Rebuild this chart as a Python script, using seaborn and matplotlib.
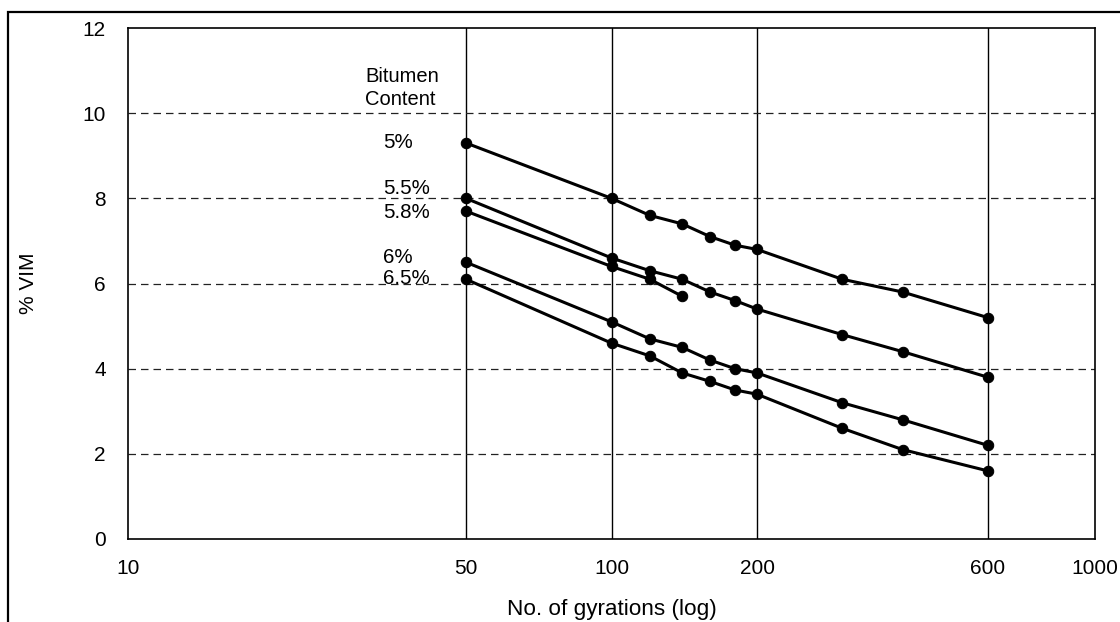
import matplotlib
matplotlib.use("Agg")
import matplotlib.pyplot as plt
import matplotlib.patches as mpatches
import seaborn as sns
import numpy as np

# ---- data ----
gyrations = [50, 100, 120, 140, 160, 180, 200, 300, 400, 600]
vim_5_0 = [9.3, 8.0, 7.6, 7.4, 7.1, 6.9, 6.8, 6.1, 5.8, 5.2]
vim_5_5 = [8.0, 6.6, 6.3, 6.1, 5.8, 5.6, 5.4, 4.8, 4.4, 3.8]
gyrations_5_8 = [50, 100, 120, 140]
vim_5_8 = [7.7, 6.4, 6.1, 5.7]
vim_6_0 = [6.5, 5.1, 4.7, 4.5, 4.2, 4.0, 3.9, 3.2, 2.8, 2.2]
vim_6_5 = [6.1, 4.6, 4.3, 3.9, 3.7, 3.5, 3.4, 2.6, 2.1, 1.6]
series_labels = ["5%", "5.5%", "5.8%", "6%", "6.5%"]
x_ticks = [10, 50, 100, 200, 600, 1000]
y_ticks = [0, 2, 4, 6, 8, 10, 12]
v_grid = [50, 100, 200, 600]
h_grid = [2, 4, 6, 8, 10]

sns.set_theme(style="white")
plt.rcParams['font.family'] = ['Liberation Sans', 'DejaVu Sans']

fig = plt.figure(figsize=(11.2, 6.22), dpi=100)
ax = fig.add_axes([128/1120, 1-539/622, (1095-128)/1120, (539-28)/622])

ax.set_xscale("log")
ax.set_xlim(10, 1000)
ax.set_ylim(0, 12)

for g in v_grid:
    ax.axvline(g, color="black", lw=1.0, zorder=1)
for h in h_grid:
    ax.axhline(h, color="#222222", lw=0.9, ls=(0, (6, 4)), zorder=1)

series = [
    (gyrations, vim_5_0),
    (gyrations, vim_5_5),
    (gyrations_5_8, vim_5_8),
    (gyrations, vim_6_0),
    (gyrations, vim_6_5),
]
for xs, ys in series:
    sns.lineplot(x=xs, y=ys, ax=ax, color="black", lw=2.2, marker="o",
                 markersize=7.5, markeredgecolor="black", markerfacecolor="black",
                 zorder=3, legend=False)

# labels
label_y = [9.32, 8.24, 7.67, 6.6, 6.11]
for lab, yy in zip(series_labels, label_y):
    ax.text(33.7, yy, lab, fontsize=14.8, ha="left", va="center", color="black")
ax.text(30.9, 10.85, "Bitumen", fontsize=14.5, ha="left", va="center", color="black")
ax.text(30.9, 10.31, "Content", fontsize=14.5, ha="left", va="center", color="black")

ax.set_xticks(x_ticks)
ax.set_xticklabels([str(t) for t in x_ticks])
ax.minorticks_off()
ax.set_yticks(y_ticks)
ax.tick_params(axis="both", length=0, labelsize=15, colors="black")
ax.tick_params(axis="x", pad=14.5)
ax.tick_params(axis="y", pad=16)

ax.set_xlabel("No. of gyrations (log)", fontsize=16.2, labelpad=15, color="black")
ax.set_ylabel("% VIM", fontsize=15, labelpad=32, color="black")

for s in ax.spines.values():
    s.set_color("black")
    s.set_linewidth(1.2)
    s.set_visible(True)

# outer frame
rect = mpatches.Rectangle((8/1120, -0.2), 1.5, 0.2 + 1 - 12/622,
                          transform=fig.transFigure, fill=False,
                          edgecolor="black", lw=1.6, clip_on=False)
fig.patches.append(rect)

fig.savefig("out.png", dpi=100)
